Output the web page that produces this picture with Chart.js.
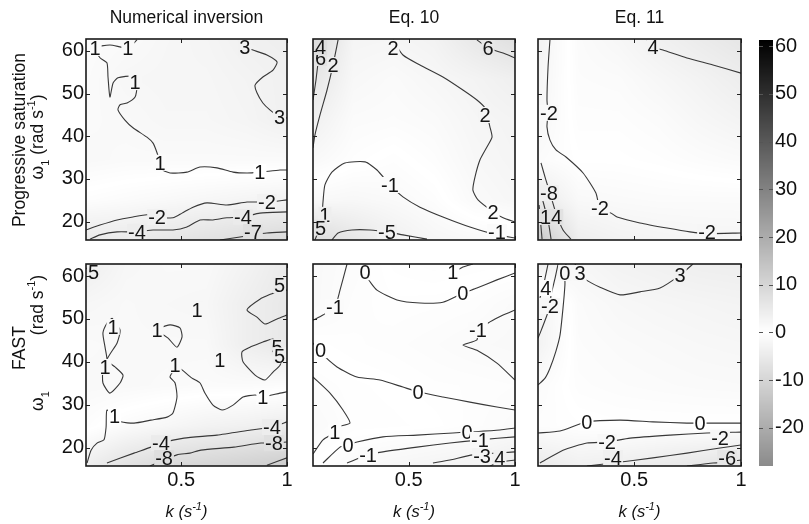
<!DOCTYPE html>
<html>
<head>
<meta charset="utf-8">
<script src="https://cdn.jsdelivr.net/npm/chart.js@4.4.1/dist/chart.umd.min.js"></script>
<style>
  html, body { margin: 0; padding: 0; background: #fff; }
  #wrap { position: relative; width: 809px; height: 524px; overflow: hidden; }
  #wrap canvas { position: absolute; left: 0; top: 0; }
</style>
</head>
<body>
<div id="wrap"></div>
<script>
// ---- data ----
const kRange = [0.05, 1];
const wRange = [15.7, 62.8];
const barRange = [-28, 61.3];
const kTicks = [0.5, 1];
const wTicks = [20, 30, 40, 50, 60];
const barTicks = [-20, -10, 0, 10, 20, 30, 40, 50, 60];
const colTitles = ['Numerical inversion', 'Eq. 10', 'Eq. 11'];
const rowTitles = ['Progressive saturation', 'FAST'];

// background field, sampled on a coarse grid (rows go from low to high omega)
const fieldK = [0.05, 0.24, 0.43, 0.62, 0.81, 1.0];
const fieldW = [15.7, 25.1, 34.5, 44.0, 53.4, 62.8];

const psNumField = [
  [-5, -5, -6, -7, -8, -9],
  [-0.5, -1, -1.5, -2, -2.5, -3],
  [1.5, 1.2, 1.2, 1.2, 1.2, 1.2],
  [1.2, 1.5, 2, 2, 2.5, 3.5],
  [1, 2, 2.2, 2.2, 2.8, 3.5],
  [0.8, 1.2, 2, 2.5, 3.5, 4]
];
const psEq10Field = [
  [-9, -6, -3.5, -2, -1.5, -1.2],
  [-1.5, -1.8, -1.3, -0.5, 1.2, 2],
  [1.5, 0.3, -0.3, 0.5, 1.8, 2.5],
  [3.5, 1, 0.8, 1.2, 2.2, 2.8],
  [6, 1.8, 1.2, 2, 2.8, 3.8],
  [9, 2.5, 2.3, 3, 5.5, 7.5]
];
const psEq11Field = [
  [-13, -4, -3, -2.6, -2.3, -2.2],
  [-5, -1.5, -1.2, -1, -1, -1],
  [-1, 0, 0, 0.3, 0.8, 1.2],
  [-2, 0.5, 0.5, 1, 2, 2.8],
  [-2.5, 0.8, 1, 2, 3, 4.2],
  [-3, 1, 2, 3.5, 4.8, 6]
];
const fastNumField = [
  [-4, -7, -9, -10, -11, -12],
  [0.5, -1, -2, -3, -3.5, -4.5],
  [1.5, 1.5, 1.2, 1.0, 1.0, 0.8],
  [1.2, 1.5, 1.5, 1.5, 4, 5.5],
  [2, 1.5, 1.8, 2, 4, 5.5],
  [4, 2, 1.5, 1.5, 3, 5]
];
const fastEq10Field = [
  [0, -1.2, -2, -2.5, -3, -4.5],
  [1.2, 0.3, 0.2, 0, -0.5, -1],
  [0.6, 0.2, 0, -0.3, -0.4, -0.6],
  [0, -0.3, -0.5, -0.8, -1.2, -1.5],
  [-1.5, -0.5, -0.2, -0.3, -0.5, -1.2],
  [-1.5, -0.8, 0.2, 0.5, 0.3, 0.2]
];
const fastEq11Field = [
  [-5, -3.5, -4, -5, -6, -7],
  [-0.5, -0.2, 0, 0, 0, 0],
  [-1, 0.5, 0.8, 1, 1.2, 1.3],
  [-3, 0.8, 1.2, 1.5, 1.8, 2],
  [-3, 1, 1.8, 2.2, 2.5, 2.8],
  [4, 2, 3, 3.5, 4, 4.2]
];

// contour lines as [k, omega] points, labels as [text, k, omega]
const psNumLines = [
  [[0.291,62.6],[0.248,60.7],[0.163,61.4],[0.093,60.7],[0.116,58.4],[0.149,57.2],[0.154,53.9],[0.163,49.2],[0.178,52.5],[0.201,53.7],[0.272,54.1],[0.282,52.7],[0.291,51.6],[0.282,49.2],[0.244,47.8],[0.211,47.4],[0.201,46.2],[0.234,43.8],[0.272,42.0],[0.338,39.8],[0.367,38.4],[0.386,36.1],[0.400,33.8],[0.414,32.1],[0.447,31.4],[0.527,31.6],[0.589,32.8],[0.669,32.6],[0.745,31.6],[0.811,31.4],[0.872,31.6],[0.967,32.1],[1.0,32.1]],
  [[0.792,62.6],[0.801,60.9],[0.839,60.2],[0.905,59.05],[0.953,57.4],[0.934,55.5],[0.886,53.9],[0.849,52.0],[0.858,50.2],[0.886,47.8],[0.919,46.2],[0.967,44.5],[1.0,44.3]],
  [[0.05,18.05],[0.116,19.2],[0.197,20.4],[0.272,21.1],[0.338,21.6],[0.386,21.1],[0.461,20.9],[0.504,22.0],[0.556,23.4],[0.622,24.4],[0.716,23.9],[0.811,24.6],[0.905,24.6],[1.0,25.1]],
  [[0.069,15.9],[0.116,16.9],[0.197,17.6],[0.291,17.6],[0.367,18.05],[0.461,18.05],[0.527,18.75],[0.589,20.4],[0.650,20.4],[0.716,20.9],[0.792,21.1],[0.872,22.0],[1.0,22.3]],
  [[0.683,15.7],[0.778,16.4],[0.839,16.9],[0.905,17.35],[1.0,17.6]]
];
const psNumLabels = [['1',0.093,60.7],['1',0.248,60.7],['1',0.282,52.7],['1',0.400,33.8],['1',0.872,31.6],['3',0.801,60.9],['3',0.975,44.5],['-2',0.386,21.1],['-2',0.905,24.6],['-4',0.291,17.6],['-4',0.792,21.1],['-7',0.839,16.9]];

const psEq10Lines = [
  [[0.426,62.6],[0.473,59.05],[0.553,56.7],[0.661,53.9],[0.755,50.85],[0.821,48.5],[0.859,46.6],[0.882,42.2],[0.892,39.8],[0.868,37.5],[0.835,34.45],[0.812,30.5],[0.802,27.4],[0.826,25.1],[0.897,22.3],[0.944,20.9],[1.0,19.9]],
  [[0.059,15.7],[0.074,17.6],[0.092,21.6],[0.097,24.6],[0.106,28.6],[0.139,31.6],[0.200,33.75],[0.295,34.0],[0.351,32.1],[0.412,28.6],[0.473,25.8],[0.553,23.4],[0.661,21.1],[0.788,18.75],[0.915,16.9],[1.0,16.2]],
  [[0.139,15.7],[0.168,17.35],[0.233,18.05],[0.318,18.05],[0.398,17.6],[0.473,16.9],[0.586,15.9]],
  [[0.821,62.6],[0.873,60.7],[0.944,59.5],[1.0,58.35]],
  [[0.168,62.6],[0.144,56.7],[0.116,50.85],[0.083,45.0],[0.059,40.3],[0.05,37.3]],
  [[0.088,62.6],[0.078,59.05],[0.064,53.2],[0.05,48.5]]
];
const psEq10Labels = [['2',0.426,60.7],['2',0.859,45.0],['2',0.897,22.3],['-1',0.412,28.6],['1',0.106,21.6],['-1',0.915,16.9],['-5',0.398,17.6],['6',0.873,60.7],['2',0.144,56.7],['6',0.083,58.35],['4',0.07,61.6],['5',0.06,18.6]];

const psEq11Lines = [
  [[0.560,62.6],[0.588,60.9],[0.635,60.2],[0.747,58.35],[0.869,56.7],[1.0,54.8]],
  [[0.106,62.6],[0.097,56.2],[0.092,48.5],[0.097,45.5],[0.092,42.2],[0.106,39.1],[0.134,36.8],[0.181,35.15],[0.261,31.4],[0.321,26.7],[0.340,23.2],[0.392,22.0],[0.420,21.1],[0.527,19.7],[0.654,18.5],[0.761,17.6],[0.841,17.2],[1.0,17.35]],
  [[0.064,33.75],[0.085,30.1],[0.106,26.7],[0.134,22.0],[0.167,18.05],[0.204,15.9]],
  [[0.059,27.4],[0.078,23.9],[0.101,19.2],[0.111,15.9]],
  [[0.055,23.9],[0.069,15.9]]
];
const psEq11Labels = [['4',0.588,60.9],['-2',0.097,45.5],['-2',0.340,23.2],['-2',0.841,16.9],['-8',0.097,26.7],['14',0.097,21.1]];

const fastNumLines = [
  [[0.055,16.4],[0.074,19.4],[0.102,21.05],[0.135,21.8],[0.145,24.8],[0.149,28.75],[0.185,27.3],[0.215,26.0],[0.277,25.7],[0.357,26.4],[0.433,27.1],[0.461,28.05],[0.480,31.8],[0.471,35.05],[0.447,36.45],[0.456,37.4],[0.471,39.2],[0.504,38.1],[0.551,36.2],[0.589,35.05],[0.612,32.7],[0.650,29.9],[0.693,28.75],[0.745,29.9],[0.792,31.8],[0.849,32.25],[0.886,31.8],[0.967,32.7],[1.0,33.0]],
  [[0.173,50.2],[0.211,47.4],[0.197,44.4],[0.149,40.4],[0.187,38.8],[0.225,36.9],[0.211,35.05],[0.163,32.7],[0.130,35.05],[0.130,38.1],[0.149,40.4],[0.140,43.4],[0.130,46.7],[0.149,49.0],[0.173,50.2]],
  [[0.367,47.4],[0.447,48.6],[0.494,47.9],[0.504,45.8],[0.480,43.4],[0.438,45.5],[0.400,46.7],[0.367,47.4]],
  [[1.0,56.7],[0.967,56.7],[0.934,56.0],[0.872,54.6],[0.811,52.1],[0.858,50.4],[0.896,48.8],[0.953,50.0],[1.0,50.9]],
  [[0.886,44.6],[0.934,45.3],[0.953,43.4],[0.981,41.8],[0.967,39.2],[0.934,37.6],[0.896,35.75],[0.849,36.9],[0.792,40.0],[0.787,42.3],[0.825,43.4],[0.886,44.6]],
  [[0.05,61.9],[0.078,60.9],[0.093,62.8]],
  [[0.149,16.4],[0.277,18.7],[0.357,20.1],[0.404,21.05],[0.513,22.2],[0.669,22.9],[0.830,24.1],[0.929,24.8],[1.0,26.0]],
  [[0.352,15.7],[0.419,17.1],[0.480,18.3],[0.541,18.7],[0.593,19.4],[0.749,20.1],[0.877,21.05],[0.938,21.05],[1.0,21.3]],
  [[0.905,15.9],[1.0,17.6]]
];
const fastNumLabels = [['1',0.185,27.3],['1',0.471,39.2],['1',0.886,31.8],['1',0.178,48.1],['1',0.140,38.8],['1',0.386,47.4],['1',0.575,52.1],['1',0.683,40.4],['5',0.976,57.9],['5',0.953,43.4],['5',0.985,41.5],['5',0.072,61.2],['-4',0.404,21.05],['-4',0.929,24.8],['-8',0.419,17.1],['-8',0.938,21.05]];

const fastEq10Lines = [
  [[0.295,62.8],[0.304,59.8],[0.351,56.7],[0.445,54.4],[0.553,53.7],[0.661,53.9],[0.755,56.0],[0.821,57.2],[0.915,59.1],[1.0,60.7]],
  [[0.694,62.8],[0.708,60.9],[0.755,62.1],[0.802,62.8]],
  [[0.210,62.8],[0.177,56.7],[0.153,52.8],[0.097,50.9],[0.05,49.7]],
  [[0.05,44.4],[0.074,42.7],[0.163,38.8],[0.257,36.45],[0.365,35.75],[0.473,34.1],[0.544,33.0],[0.661,31.8],[0.788,30.6],[0.915,29.45],[1.0,28.75]],
  [[1.0,35.75],[0.915,39.7],[0.821,42.7],[0.755,43.9],[0.821,45.1],[0.826,47.4],[0.882,49.3],[0.944,50.9],[1.0,52.1]],
  [[0.05,36.45],[0.130,32.7],[0.191,28.75],[0.224,25.7],[0.163,24.8],[0.153,23.6],[0.097,21.8],[0.05,18.5]],
  [[0.097,16.4],[0.177,20.1],[0.215,20.6],[0.257,21.3],[0.379,22.5],[0.539,22.9],[0.708,23.4],[0.774,23.6],[0.929,24.1],[1.0,24.55]],
  [[0.210,16.4],[0.309,18.3],[0.379,19.0],[0.539,20.1],[0.694,21.05],[0.835,21.8],[1.0,22.5]],
  [[0.614,16.4],[0.694,17.1],[0.802,18.3],[1.0,19.0]],
  [[0.882,15.7],[0.929,16.6],[1.0,17.1]]
];
const fastEq10Labels = [['0',0.295,60.9],['0',0.755,56.0],['1',0.708,61.2],['-1',0.153,52.8],['0',0.074,42.7],['0',0.544,33.0],['-1',0.826,47.4],['1',0.153,23.6],['0',0.215,20.6],['0',0.774,23.6],['-1',0.309,18.3],['-1',0.835,21.8],['-3',0.845,18.0],['4',0.929,16.6]];

const fastEq11Lines = [
  [[0.223,62.8],[0.247,60.7],[0.275,59.1],[0.340,57.4],[0.434,55.6],[0.527,56.3],[0.621,57.2],[0.715,60.2],[0.775,62.8]],
  [[0.181,62.8],[0.176,60.7],[0.176,57.9],[0.167,52.5],[0.153,46.2],[0.134,42.5],[0.106,38.5],[0.083,36.2],[0.05,34.6]],
  [[0.144,62.8],[0.130,59.5],[0.111,55.6],[0.106,53.0],[0.087,50.2],[0.064,47.2],[0.05,45.5]],
  [[0.097,62.8],[0.083,59.5],[0.073,57.2],[0.059,54.9]],
  [[0.05,23.4],[0.153,23.85],[0.279,26.0],[0.434,26.4],[0.588,26.0],[0.747,25.7],[0.808,25.7],[0.902,25.7],[1.0,25.7]],
  [[0.059,16.4],[0.167,19.4],[0.279,21.05],[0.373,21.3],[0.481,22.2],[0.668,22.9],[0.841,23.4],[1.0,23.6]],
  [[0.279,15.7],[0.401,16.4],[0.588,17.6],[0.747,18.7],[0.902,19.9],[1.0,20.6]],
  [[0.747,15.7],[0.869,16.4],[0.935,16.6],[1.0,17.1]]
];
const fastEq11Labels = [['0',0.176,60.7],['3',0.247,60.7],['3',0.715,60.2],['4',0.087,57.2],['-2',0.106,53.0],['0',0.279,26.0],['0',0.808,25.7],['-2',0.373,21.3],['-2',0.902,22.3],['-4',0.401,16.4],['-6',0.935,16.6]];

// ---- layout ----
const W = 809, H = 524;
const colX = [[86, 287], [313, 515], [538, 741]];
const rowY = [[39, 240], [264, 466]];
const FONT = '"Liberation Sans", Arial, Helvetica, sans-serif';
const TICK = 20;
const wrap = document.getElementById('wrap');

function gray(v) {
  const g = Math.max(0, Math.min(1, 1 - Math.abs(v) / 61.3));
  return Math.round(g * 255);
}

function fieldAt(field, k, w) {
  let i = 0, j = 0;
  while (i < fieldK.length - 2 && k > fieldK[i + 1]) i++;
  while (j < fieldW.length - 2 && w > fieldW[j + 1]) j++;
  const tx = Math.max(0, Math.min(1, (k - fieldK[i]) / (fieldK[i + 1] - fieldK[i])));
  const ty = Math.max(0, Math.min(1, (w - fieldW[j]) / (fieldW[j + 1] - fieldW[j])));
  return field[j][i] * (1 - tx) * (1 - ty) + field[j][i + 1] * tx * (1 - ty) +
         field[j + 1][i] * (1 - tx) * ty + field[j + 1][i + 1] * tx * ty;
}

// text made of pieces (for sub/superscripts), centred on cx,cy
function drawRich(ctx, parts, cx, cy, rot) {
  ctx.save();
  ctx.translate(cx, cy);
  if (rot) ctx.rotate(rot);
  ctx.fillStyle = '#111';
  ctx.textAlign = 'left';
  ctx.textBaseline = 'alphabetic';
  let total = 0;
  parts.forEach(p => { ctx.font = p.f; p.w = ctx.measureText(p.t).width; total += p.w; });
  let x = -total / 2;
  const base = parts[0].s * 0.36;
  parts.forEach(p => { ctx.font = p.f; ctx.fillText(p.t, x, base + (p.dy || 0)); x += p.w; });
  ctx.restore();
}

function plain(t, s) { return [{ t, s, f: s + 'px ' + FONT }]; }
function omegaPart(s) {
  return [
    { t: 'ω', s, f: s + 'px ' + FONT },
    { t: '1', s, f: Math.round(s * 0.65) + 'px ' + FONT, dy: s * 0.3 }
  ];
}
function unitPart(s) {
  return [
    { t: '(rad s', s, f: s + 'px ' + FONT },
    { t: '-1', s, f: Math.round(s * 0.65) + 'px ' + FONT, dy: -s * 0.45 },
    { t: ')', s, f: s + 'px ' + FONT }
  ];
}
function kTitle(s) {
  const sm = Math.round(s * 0.65);
  return [
    { t: 'k (s', s, f: 'italic ' + s + 'px ' + FONT },
    { t: '-1', s, f: 'italic ' + sm + 'px ' + FONT, dy: -s * 0.45 },
    { t: ')', s, f: 'italic ' + s + 'px ' + FONT }
  ];
}

function newCanvas() {
  const c = document.createElement('canvas');
  c.width = W; c.height = H;
  wrap.appendChild(c);
  return c;
}

const panels = [
  { lines: psNumLines, labels: psNumLabels, field: psNumField, col: 0, row: 0 },
  { lines: psEq10Lines, labels: psEq10Labels, field: psEq10Field, col: 1, row: 0 },
  { lines: psEq11Lines, labels: psEq11Labels, field: psEq11Field, col: 2, row: 0 },
  { lines: fastNumLines, labels: fastNumLabels, field: fastNumField, col: 0, row: 1 },
  { lines: fastEq10Lines, labels: fastEq10Labels, field: fastEq10Field, col: 1, row: 1 },
  { lines: fastEq11Lines, labels: fastEq11Labels, field: fastEq11Field, col: 2, row: 1 }
];

panels.forEach((p, n) => {
  const yW = p.col === 0 ? 40 : 0;
  const xH = p.row === 1 ? 30 : 0;

  const panelPlugin = {
    id: 'panel' + n,
    beforeDatasetsDraw(chart) {
      const { ctx, chartArea: a, scales: { x, y } } = chart;
      const pw = Math.round(a.right - a.left), ph = Math.round(a.bottom - a.top);
      const img = ctx.createImageData(pw, ph);
      for (let j = 0; j < ph; j++) {
        const w = y.getValueForPixel(a.top + j + 0.5);
        for (let i = 0; i < pw; i++) {
          const k = x.getValueForPixel(a.left + i + 0.5);
          const g = gray(fieldAt(p.field, k, w));
          const o = (j * pw + i) * 4;
          img.data[o] = g; img.data[o + 1] = g; img.data[o + 2] = g; img.data[o + 3] = 255;
        }
      }
      ctx.putImageData(img, Math.round(a.left), Math.round(a.top));
    },
    afterDatasetsDraw(chart) {
      const { ctx, chartArea: a, scales: { x, y } } = chart;
      ctx.save();
      // contour labels, with a gap cut into the line behind them
      const fs = 20;
      ctx.font = fs + 'px ' + FONT;
      ctx.textAlign = 'center';
      ctx.textBaseline = 'alphabetic';
      p.labels.forEach(([t, k, w]) => {
        const tw = ctx.measureText(t).width;
        let px = x.getPixelForValue(k), py = y.getPixelForValue(w);
        px = Math.max(a.left + tw / 2 + 2, Math.min(a.right - tw / 2 - 2, px));
        py = Math.max(a.top + 8, Math.min(a.bottom - 8, py));
        const g = gray(fieldAt(p.field, k, w));
        ctx.fillStyle = `rgb(${g},${g},${g})`;
        ctx.fillRect(px - tw / 2 - 1, py - 8, tw + 2, 16);
        ctx.fillStyle = '#151515';
        ctx.fillText(t, px, py + fs * 0.36);
      });
      // inward tick marks
      ctx.strokeStyle = '#222';
      ctx.lineWidth = 1;
      ctx.beginPath();
      kTicks.forEach(v => {
        const px = Math.round(x.getPixelForValue(v)) + 0.5;
        ctx.moveTo(px, a.bottom); ctx.lineTo(px, a.bottom - 4);
        ctx.moveTo(px, a.top); ctx.lineTo(px, a.top + 4);
      });
      wTicks.forEach(v => {
        const py = Math.round(y.getPixelForValue(v)) + 0.5;
        ctx.moveTo(a.left, py); ctx.lineTo(a.left + 4, py);
        ctx.moveTo(a.right, py); ctx.lineTo(a.right - 4, py);
      });
      ctx.stroke();
      // frame
      ctx.strokeStyle = '#1a1a1a';
      ctx.lineWidth = 1.6;
      ctx.strokeRect(a.left, a.top, a.right - a.left, a.bottom - a.top);
      ctx.restore();
    },
    afterDraw(chart) {
      const { ctx, chartArea: a } = chart;
      const cx = (a.left + a.right) / 2;
      const up = -Math.PI / 2;
      if (p.row === 0) drawRich(ctx, plain(colTitles[p.col], 17.5), cx, 17, 0);
      if (p.row === 1) drawRich(ctx, kTitle(16.5), cx, 511, 0);
      if (p.col === 0 && p.row === 0) {
        drawRich(ctx, plain(rowTitles[0], 17.5), 19, 140, up);
        drawRich(ctx, omegaPart(17.5).concat([{ t: ' ', s: 17.5, f: '17.5px ' + FONT }], unitPart(17.5)), 37, 137, up);
      }
      if (p.col === 0 && p.row === 1) {
        drawRich(ctx, plain(rowTitles[1], 17.5), 19, 348, up);
        drawRich(ctx, unitPart(17.5), 37, 305, up);
        drawRich(ctx, omegaPart(17.5), 37, 401, up);
      }
    }
  };

  new Chart(newCanvas(), {
    type: 'scatter',
    data: {
      datasets: p.lines.map(line => ({
        data: line.map(([k, w]) => ({ x: k, y: w })),
        showLine: true,
        pointRadius: 0,
        borderColor: '#383838',
        borderWidth: 1.1,
        tension: 0.2,
        fill: false
      }))
    },
    options: {
      responsive: false,
      animation: false,
      devicePixelRatio: 1,
      events: [],
      layout: {
        autoPadding: false,
        padding: {
          left: colX[p.col][0] - yW,
          right: W - colX[p.col][1],
          top: rowY[p.row][0],
          bottom: H - rowY[p.row][1] - xH
        }
      },
      plugins: { legend: { display: false }, tooltip: { enabled: false }, title: { display: false } },
      scales: {
        x: {
          type: 'linear', min: kRange[0], max: kRange[1],
          grid: { display: false, drawTicks: false }, border: { display: false },
          ticks: { display: p.row === 1, color: '#111', padding: 2, maxRotation: 0, font: { family: FONT, size: TICK }, callback: v => String(v) },
          afterBuildTicks: s => { s.ticks = kTicks.map(v => ({ value: v })); },
          afterFit: s => { s.height = xH; }
        },
        y: {
          type: 'linear', min: wRange[0], max: wRange[1],
          grid: { display: false, drawTicks: false }, border: { display: false },
          ticks: { display: p.col === 0, color: '#111', padding: 2, font: { family: FONT, size: TICK }, callback: v => String(v) },
          afterBuildTicks: s => { s.ticks = wTicks.map(v => ({ value: v })); },
          afterFit: s => { s.width = yW; }
        }
      }
    },
    plugins: [panelPlugin]
  });
});

// colour bar
const barPlugin = {
  id: 'bar',
  beforeDatasetsDraw(chart) {
    const { ctx, chartArea: a, scales: { y } } = chart;
    for (let py = Math.floor(a.top); py < a.bottom; py++) {
      const g = gray(y.getValueForPixel(py + 0.5));
      ctx.fillStyle = `rgb(${g},${g},${g})`;
      ctx.fillRect(a.left, py, a.right - a.left, 1);
    }
  },
  afterDraw(chart) {
    const { ctx, chartArea: a, scales: { y } } = chart;
    ctx.save();
    ctx.strokeStyle = '#555';
    ctx.lineWidth = 1;
    ctx.beginPath();
    barTicks.forEach(v => {
      const py = Math.round(y.getPixelForValue(v)) + 0.5;
      ctx.moveTo(a.left, py); ctx.lineTo(a.left + 4, py);
      ctx.moveTo(a.right, py); ctx.lineTo(a.right - 4, py);
    });
    ctx.stroke();
    ctx.restore();
  }
};

new Chart(newCanvas(), {
  type: 'scatter',
  data: { datasets: [] },
  options: {
    responsive: false,
    animation: false,
    devicePixelRatio: 1,
    events: [],
    layout: { autoPadding: false, padding: { left: 759, right: 0, top: 40, bottom: H - 466 } },
    plugins: { legend: { display: false }, tooltip: { enabled: false } },
    scales: {
      x: { type: 'linear', display: false, min: 0, max: 1 },
      y: {
        type: 'linear', position: 'right', min: barRange[0], max: barRange[1],
        grid: { display: false, drawTicks: false }, border: { display: false },
        ticks: { color: '#111', padding: 2, font: { family: FONT, size: TICK }, callback: v => String(v) },
        afterBuildTicks: s => { s.ticks = barTicks.map(v => ({ value: v })); },
        afterFit: s => { s.width = 36; }
      }
    }
  },
  plugins: [barPlugin]
});
</script>
</body>
</html>
